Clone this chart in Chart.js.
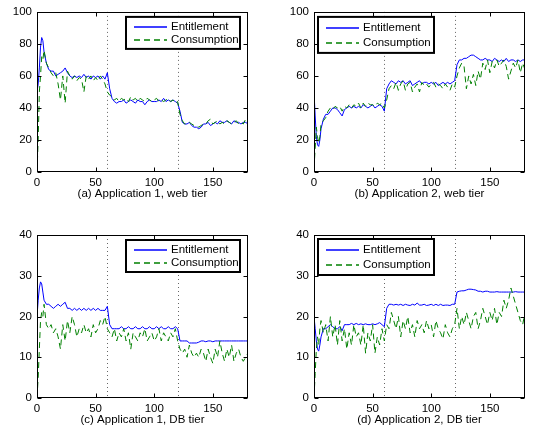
<!DOCTYPE html>
<html><head><meta charset="utf-8">
<script src="https://cdn.jsdelivr.net/npm/chart.js@4/dist/chart.umd.min.js"></script>
<style>
html,body{margin:0;padding:0;background:#fff;}
body{width:554px;height:433px;position:relative;overflow:hidden;}
.p{position:absolute;}
</style></head><body>
<div class="p" style="left:0;top:0;width:277px;height:216px"><canvas id="c0"></canvas></div>
<div class="p" style="left:277px;top:0;width:277px;height:216px"><canvas id="c1"></canvas></div>
<div class="p" style="left:0;top:216px;width:277px;height:217px"><canvas id="c2"></canvas></div>
<div class="p" style="left:277px;top:216px;width:277px;height:217px"><canvas id="c3"></canvas></div>
<script>
// ---- data ----
const xs = [0,1,2,3,4,5,6,8,10,12,14,16,18,20,22,24,26,28,30,32,34,36,38,40,42,44,46,48,50,52,54,56,58,60,62,64,66,68,70,72,74,76,78,80,82,84,86,88,90,92,94,96,98,100,102,104,106,108,110,112,114,116,118,120,122,124,126,128,130,132,134,136,138,140,142,144,146,148,150,152,154,156,158,160,162,164,166,168,170,172,174,176,178,180];
const seriesNames = ['Entitlement', 'Consumption'];
const captions = ['(a) Application 1, web tier', '(b) Application 2, web tier', '(c) Application 1, DB tier', '(d) Application 2, DB tier'];
const xTicks = [0, 50, 100, 150];
const yTicksTop = [0, 20, 40, 60, 80, 100];
const yTicksBottom = [0, 10, 20, 30, 40];
const dividers = [60, 120];

const aEnt = [50,55,65,78,84,82,75,
  68,64,63,63,60,61,62,63,65,62,
  60,59,60,59,60,59,61,59,60,58,
  60,59,60,58,60,58,62,52,46,44,
  43,44,44,45,43,44,45,44,43,45,
  44,44,42,44,45,44,44,44,45,44,
  46,44,45,44,45,44,43,38,31,30,
  30,31,29,28,28,27,28,30,30,31,
  29,30,31,30,32,31,31,32,31,30,
  32,31,31,30,31,31,30];
const aCon = [0,20,50,60,72,70,76,
  68,65,62,60,62,55,45,60,43,63,
  60,58,60,57,59,58,50,60,58,60,
  57,59,57,60,58,55,50,48,47,45,
  46,44,46,45,46,44,47,45,46,44,
  46,45,44,46,45,44,45,46,44,45,
  44,45,46,44,45,43,44,36,32,30,
  30,31,30,29,29,28,29,30,30,32,
  33,30,31,32,30,31,30,32,31,30,
  31,32,30,31,30,33,31];
const bEnt = [50,35,22,17,16,20,27,
  33,36,36,38,40,40,39,37,35,39,
  40,41,40,41,40,41,40,42,41,40,
  41,42,40,41,42,41,38,52,55,57,
  56,55,57,56,57,55,56,57,54,55,
  56,57,55,56,56,55,56,55,56,54,
  55,56,55,56,55,56,57,67,70,70,
  71,71,72,73,73,72,71,70,70,71,
  70,70,69,71,70,69,70,69,71,69,
  70,70,69,70,69,70,70];
const bCon = [2,15,28,22,18,22,30,
  32,34,38,40,39,41,40,41,38,41,
  40,42,40,42,41,43,40,43,41,43,
  42,42,41,43,42,43,40,45,52,54,
  52,56,51,55,57,51,55,56,50,53,
  55,50,56,54,55,53,55,56,53,55,
  54,52,55,53,51,55,53,60,65,68,
  66,52,60,55,61,54,63,58,68,64,
  70,62,69,65,70,66,68,70,66,58,
  63,68,65,70,62,68,64];
const cEnt = [20,24,27,28.5,28,26,24,
  23,23,22.5,22,22.5,23,22.5,23,23.5,22,
  22,21.5,22,21.5,22,21.5,22,21.5,22,21.5,
  22,21.5,22,21.5,21.5,21.5,22.5,18,17,17,
  17,17,17.5,17,17,17.5,17,17,17.5,17,
  17,17.5,17,17,17.5,17,17,17.5,17,17.5,
  17,17,17.5,17,17,17.5,17,14,14,14,
  14,13.5,13.5,13.5,13.5,13.7,14,14,13.8,14,
  14,13.8,14,14,14,14,14,14,14,14,
  14,14,14,14,14,14,14];
const cCon = [0,5,12,19,21,20,23,
  18,17,18,16,17,15,12,18,14,19,
  16,20,18,15,17,16,18,16,17,15,
  18,16,17,19,18,20,17,16,15,17,
  14,16,15,17,14,16,12,16,15,14,
  16,15,17,14,15,16,14,15,17,14,
  16,15,14,16,15,17,14,12,11,12,
  10,13,11,10,11,10,12,11,9,12,
  10,8.5,12,10,14,11,9,12,10,13,
  9,11,12,10,9,10,11];
const dEnt = [20,17,14,12,11.5,13,15,
  17,17,17.5,18,17.5,17,17,17.5,16.5,18,
  18,18,18.3,18,18.3,18,18.2,18,18.2,18,
  18,18.2,18,18.2,18.5,18,17.5,22,23,23,
  22.8,23,22.8,23,22.7,23,22.8,22.7,23,22.8,
  23.3,22.8,22.8,23,22.7,22.8,23,22.7,23,22.7,
  23,22.7,22.8,22.8,22.7,23,23,26,26.2,26.3,
  26.3,26.5,26.7,26.7,26.6,26.5,26.2,26.2,26,26.2,
  26.2,26,26,26,26.1,26,26,26,26,26,
  26,26,26.1,26,26,26,26];
const dCon = [0,6,12,15,13,17,19,
  16,18,14,20,15,18,13,19,14,17,
  12,16,13,18,15,16,13,18,11,16,
  14,18,11,15,13,17,14,18,17,21,
  19,17,20,15,19,17,20,16,18,15,
  19,17,18,16,19,17,18,15,19,17,
  16,14.5,18,16,15,17,18,22,17,20,
  18,21,19,17,20,21,17,19,22,20,
  18,21,19,22,18,21,20,24,22,24,
  27,25,23,21,19,18,21];

// ---- drawing ----
const FONT = "'Liberation Sans', Arial, Helvetica, sans-serif";
const COLORS = ['#0000ff', '#008000'];
const DASHES = [[], [6, 4]];
Chart.defaults.font.family = FONT;
Chart.defaults.font.size = 11;
Chart.defaults.color = '#000';

const pts = (arr) => xs.map((x, i) => ({x: x, y: arr[i]}));

const boxPlugin = {
  id: 'mbox',
  beforeDatasetsDraw(chart) {
    const {ctx, chartArea: a, scales: {x}} = chart;
    ctx.save();
    ctx.strokeStyle = '#666';
    ctx.lineWidth = 1;
    ctx.setLineDash([1, 3]);
    for (const v of dividers) {
      const px = Math.round(x.getPixelForValue(v)) + 0.5;
      ctx.beginPath(); ctx.moveTo(px, a.top); ctx.lineTo(px, a.bottom); ctx.stroke();
    }
    ctx.restore();
  },
  afterDatasetsDraw(chart, args, opts) {
    const {ctx, chartArea: a, scales: {x, y}} = chart;
    ctx.save();
    ctx.setLineDash([]);
    ctx.strokeStyle = '#000';
    ctx.lineWidth = 1;
    const L = Math.round(a.left) + 0.5, R = Math.round(a.right) - 0.5;
    const T = Math.round(a.top) + 0.5, B = Math.round(a.bottom) - 0.5;
    ctx.strokeRect(L, T, R - L, B - T);
    const tl = 4;
    ctx.beginPath();
    for (const t of x.ticks) {
      const px = Math.round(x.getPixelForValue(t.value)) + 0.5;
      ctx.moveTo(px, B); ctx.lineTo(px, B - tl);
      ctx.moveTo(px, T); ctx.lineTo(px, T + tl);
    }
    for (const t of y.ticks) {
      const py = Math.round(y.getPixelForValue(t.value)) + 0.5;
      ctx.moveTo(L, py); ctx.lineTo(L + tl, py);
      ctx.moveTo(R, py); ctx.lineTo(R - tl, py);
    }
    ctx.stroke();
    // legend
    const lg = opts.legend;
    const bx = lg.side === 'right' ? a.right - lg.dx - lg.w : a.left + lg.dx;
    const by = a.top + lg.dy;
    ctx.fillStyle = '#fff';
    ctx.fillRect(bx, by, lg.w, lg.h);
    ctx.lineWidth = 2;
    ctx.strokeStyle = '#000';
    ctx.strokeRect(bx, by, lg.w, lg.h);
    const rows = [by + lg.h * 0.3, by + lg.h * 0.72];
    ctx.font = '11.5px ' + FONT;
    ctx.textBaseline = 'middle';
    ctx.textAlign = 'left';
    seriesNames.forEach((name, i) => {
      const ry = Math.round(rows[i]);
      ctx.strokeStyle = COLORS[i];
      ctx.lineWidth = 1.5;
      ctx.setLineDash(DASHES[i]);
      ctx.beginPath(); ctx.moveTo(bx + 8, ry); ctx.lineTo(bx + 41, ry); ctx.stroke();
      ctx.setLineDash([]);
      ctx.fillStyle = '#000';
      ctx.fillText(name, bx + 45, ry);
    });
    ctx.restore();
  }
};

function makeChart(id, ent, con, yMax, yTicks, caption, isTop, legend) {
  new Chart(document.getElementById(id), {
    type: 'line',
    data: {
      datasets: [
        {label: seriesNames[0], data: pts(ent), borderColor: COLORS[0], borderWidth: 1, borderDash: DASHES[0], pointRadius: 0, tension: 0, order: 1},
        {label: seriesNames[1], data: pts(con), borderColor: COLORS[1], borderWidth: 1, borderDash: DASHES[1], pointRadius: 0, tension: 0, order: 0}
      ]
    },
    options: {
      responsive: true,
      maintainAspectRatio: false,
      animation: false,
      devicePixelRatio: 1,
      layout: {padding: {top: isTop ? 7 : 19, right: 29, left: 0, bottom: 0}},
      plugins: {legend: {display: false}, tooltip: {enabled: false}, mbox: {legend: legend}},
      scales: {
        x: {
          type: 'linear', min: 0, max: 180,
          grid: {display: false, drawTicks: false},
          border: {display: false},
          afterBuildTicks: (s) => { s.ticks = xTicks.map(v => ({value: v})); },
          ticks: {padding: 4, maxRotation: 0, color: '#000', font: {size: 11.5}},
          title: {display: true, text: caption, color: '#000', font: {size: 11.5}, padding: {top: 0, bottom: isTop ? 15 : 6}},
          afterFit: (s) => { s.height = isTop ? 44 : 35; }
        },
        y: {
          type: 'linear', min: 0, max: yMax,
          grid: {display: false, drawTicks: false},
          border: {display: false},
          afterBuildTicks: (s) => { s.ticks = yTicks.map(v => ({value: v})); },
          ticks: {padding: 5, color: '#000', font: {size: 11.5}},
          afterFit: (s) => { s.width = 37; }
        }
      }
    },
    plugins: [boxPlugin]
  });
}

makeChart('c0', aEnt, aCon, 100, yTicksTop, captions[0], true, {side: 'right', dx: 8, dy: 5, w: 114, h: 32});
makeChart('c1', bEnt, bCon, 100, yTicksTop, captions[1], true, {side: 'left', dx: 4, dy: 5, w: 116, h: 36});
makeChart('c2', cEnt, cCon, 40, yTicksBottom, captions[2], false, {side: 'right', dx: 8, dy: 5, w: 114, h: 32});
makeChart('c3', dEnt, dCon, 40, yTicksBottom, captions[3], false, {side: 'left', dx: 4, dy: 4, w: 116, h: 36});
</script>
</body></html>
